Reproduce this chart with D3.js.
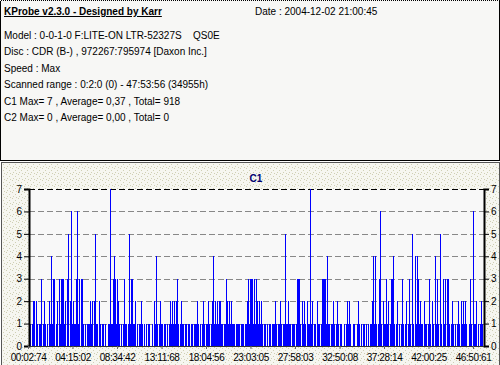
<!DOCTYPE html>
<html>
<head>
<meta charset="utf-8">
<script src="https://cdn.jsdelivr.net/npm/d3@7/dist/d3.min.js"></script>
<style>
  body { margin: 0; background: #fff; }
  svg { display: block; }
  text { font-family: Tahoma, "Liberation Sans", Arial, sans-serif; font-size: 10px; fill: #000; }
</style>
</head>
<body>
<div id="chart"></div>
<script>
// header info lines
const titleLine = 'KProbe v2.3.0 - Designed by Karr';
const dateLine = 'Date : 2004-12-02 21:00:45';
const infoLines = [
  'Model : 0-0-1-0 F:LITE-ON LTR-52327S',
  'Disc : CDR (B-) , 972267:795974 [Daxon Inc.]',
  'Speed : Max',
  'Scanned range : 0:2:0 (0) - 47:53:56 (34955h)',
  'C1 Max= 7 , Average= 0,37 , Total= 918',
  'C2 Max= 0 , Average= 0,00 , Total= 0'
];
const firmware = 'QS0E';

const chartTitle = 'C1';
const yTicks = [0, 1, 2, 3, 4, 5, 6, 7];
const xLabels = ['00:02:74', '04:15:02', '08:34:42', '13:11:68', '18:04:56', '23:03:05',
  '27:58:03', '32:50:08', '37:28:14', '42:00:25', '46:50:61'];

// C1 errors per sample column
const c1 = [
  4,1,0,1,2,2,0,2,1,0, 1,1,3,0,1,2,1,0,1,0, 2,1,4,1,3,3,0,1,2,0, 3,1,3,3,3,1,2,0,3,5,
  0,2,6,1,2,1,1,3,6,1, 3,0,3,3,1,0,1,0,1,1, 1,2,1,2,0,2,5,1,1,0, 2,1,0,1,1,0,1,0,0,1,
  1,7,1,1,3,4,3,1,3,2, 1,0,1,0,1,3,1,1,0,1, 5,1,3,3,1,1,2,0,1,0, 1,1,2,1,0,1,0,1,0,1,
  1,0,0,1,0,2,1,4,1,0, 1,2,1,1,0,1,1,0,1,0, 1,2,1,2,1,2,1,2,3,1, 0,1,2,1,1,0,1,1,0,1,
  1,0,1,1,0,1,1,1,2,1, 0,1,0,1,2,1,0,1,1,2, 1,0,1,2,4,1,2,1,2,1, 2,2,1,1,0,1,1,3,2,1,
  2,1,2,1,1,1,0,1,1,1, 1,0,1,1,1,0,1,1,2,3, 1,3,3,3,1,3,1,3,2,1, 2,1,2,1,0,1,1,0,1,0,
  1,1,0,1,1,1,2,1,0,1, 1,2,1,0,1,1,5,1,1,2, 1,1,0,1,1,1,0,1,3,3, 3,1,0,2,1,2,1,0,2,1,
  1,7,1,2,0,1,1,0,2,1, 1,0,1,3,3,3,3,1,4,1, 1,0,1,1,2,1,0,1,2,1, 0,1,1,0,0,1,0,1,2,1,
  2,1,0,0,1,1,0,0,1,2, 1,0,1,0,1,1,0,1,0,1, 0,1,1,2,4,1,4,1,0,1, 3,6,1,0,2,1,1,3,1,2,
  0,1,3,3,4,1,0,1,2,0, 1,0,1,3,1,0,1,2,0,1, 3,1,0,5,1,0,4,1,4,3, 1,2,1,1,0,2,1,1,0,1,
  3,1,0,2,1,0,4,1,3,1, 0,5,1,0,3,1,3,0,3,3, 1,0,1,2,1,0,1,0,1,2, 1,0,2,1,2,1,2,1,0,0,
  1,3,1,0,6,1,1,2,0,1, 0,1,2,1,0
];

const W = 500, H = 365;
const plot = { left: 29, right: 484, top: 189, bottom: 346 };

const svg = d3.select('#chart')
  .append('svg')
  .attr('width', W)
  .attr('height', H);

// stipple pattern for the lower panel
const defs = svg.append('defs');
const pat = defs.append('pattern')
  .attr('id', 'stipple')
  .attr('width', 6)
  .attr('height', 6)
  .attr('patternUnits', 'userSpaceOnUse');
pat.append('rect').attr('width', 6).attr('height', 6).attr('fill', '#f6f6f0');
[[0, 0], [3, 2], [1, 4], [4, 5]].forEach(([px, py]) => {
  pat.append('rect').attr('x', px).attr('y', py).attr('width', 1).attr('height', 1).attr('fill', '#cfcfb4');
});

// top info panel
svg.append('rect')
  .attr('x', 0.5).attr('y', 0.5)
  .attr('width', W - 1).attr('height', 160)
  .attr('fill', '#f7f7f5')
  .attr('stroke', '#000');
svg.append('line')
  .attr('x1', 0).attr('x2', W).attr('y1', 0.5).attr('y2', 0.5)
  .attr('stroke', '#f7f7f5').attr('stroke-dasharray', '1,1');

const head = svg.append('g');
head.append('text')
  .attr('x', 4).attr('y', 15)
  .attr('font-weight', 'bold')
  .attr('font-size', 11)
  .attr('text-decoration', 'underline')
  .text(titleLine);
head.append('text')
  .attr('x', 255).attr('y', 15)
  .text(dateLine);
head.selectAll('.info')
  .data(infoLines)
  .enter()
  .append('text')
  .attr('class', 'info')
  .attr('x', 4)
  .attr('y', (d, i) => 39 + i * 16.4)
  .text((d) => d);
head.append('text')
  .attr('x', 193).attr('y', 39)
  .text(firmware);

// lower chart panel
svg.append('rect')
  .attr('x', 1.5).attr('y', 162.5)
  .attr('width', W - 2).attr('height', H - 162)
  .attr('fill', 'url(#stipple)')
  .attr('stroke', '#555');

svg.append('rect')
  .attr('x', plot.left).attr('y', plot.top)
  .attr('width', plot.right - plot.left)
  .attr('height', plot.bottom - plot.top)
  .attr('fill', '#f8f8f8');

svg.append('text')
  .attr('x', 256).attr('y', 182)
  .attr('text-anchor', 'middle')
  .attr('font-weight', 'bold')
  .attr('font-size', 11)
  .style('fill', '#000070')
  .text(chartTitle);

const x = d3.scaleLinear()
  .domain([0, c1.length])
  .range([plot.left, plot.right]);

const y = d3.scaleLinear()
  .domain([0, 7])
  .range([plot.bottom, plot.top]);

// dashed grid
svg.append('g')
  .selectAll('line')
  .data(yTicks.filter((d) => d > 0))
  .enter()
  .append('line')
  .attr('x1', plot.left).attr('x2', plot.right)
  .attr('y1', (d) => Math.round(y(d)) + 0.5)
  .attr('y2', (d) => Math.round(y(d)) + 0.5)
  .attr('stroke', (d) => d === 7 ? '#000' : '#888')
  .attr('stroke-dasharray', '6,3');

// bars
svg.append('g')
  .attr('shape-rendering', 'crispEdges')
  .selectAll('rect')
  .data(c1)
  .enter()
  .append('rect')
  .attr('x', (d, i) => x(i))
  .attr('width', 1)
  .attr('y', (d) => y(d))
  .attr('height', (d) => y(0) - y(d))
  .attr('fill', '#0000ff');

// axes
const axisL = svg.append('g')
  .attr('transform', `translate(${plot.left},0)`)
  .call(d3.axisLeft(y).tickValues(yTicks).tickFormat(d3.format('d')).tickSize(5).tickPadding(2));
const axisR = svg.append('g')
  .attr('transform', `translate(${plot.right},0)`)
  .call(d3.axisRight(y).tickValues(yTicks).tickFormat(d3.format('d')).tickSize(5).tickPadding(2));
[axisL, axisR].forEach((a) => {
  a.select('.domain').attr('stroke', '#000').attr('stroke-width', 2);
  a.selectAll('text').attr('font-size', 11).attr('font-family', null).style('fill', '#000');
});

const xPos = d3.scalePoint()
  .domain(xLabels)
  .range([x(0) - 1, x(444)]);

const axisB = svg.append('g')
  .attr('transform', `translate(0,${plot.bottom})`)
  .call(d3.axisBottom(xPos).tickSize(3).tickPadding(5));
axisB.select('.domain').attr('stroke', '#333').attr('d', `M${plot.left},0.5H${plot.right}`);
axisB.selectAll('line').attr('stroke', '#666');
axisB.selectAll('text')
  .attr('font-size', 10.5)
  .attr('font-family', null)
  .attr('letter-spacing', -0.4)
  .style('fill', '#000');
</script>
</body>
</html>
